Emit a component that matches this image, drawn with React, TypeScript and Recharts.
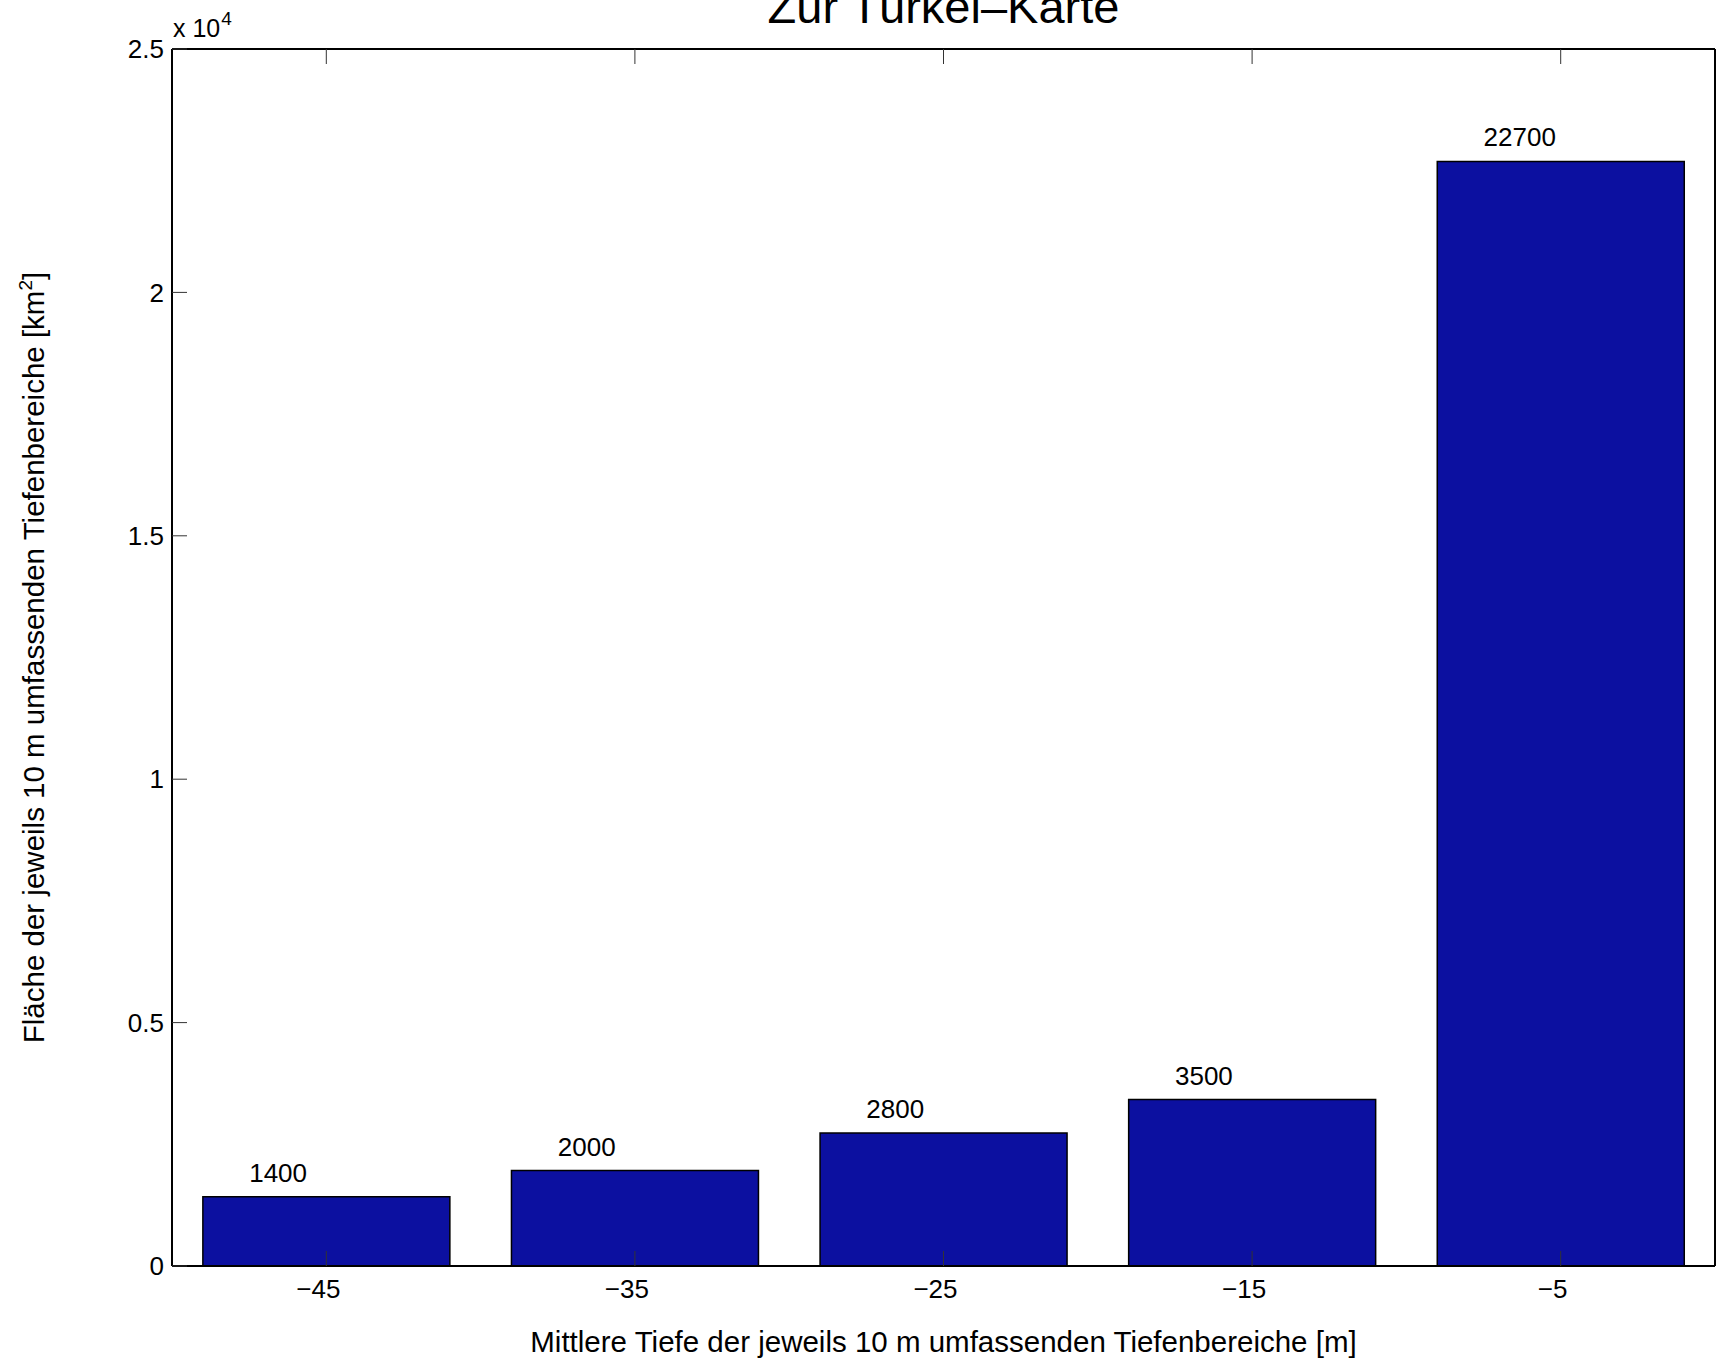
import { BarChart, Bar, XAxis, YAxis, Label, LabelList } from 'recharts'

// Mittlere Tiefe der Tiefenbereiche (Kategorien)
const depths = ['\u221245', '\u221235', '\u221225', '\u221215', '\u22125']
// Fläche je Tiefenbereich in km², wie gezeichnet
const areas = [1420, 1960, 2730, 3420, 22690]
// Beschriftung über den Balken
const barLabels = ['1400', '2000', '2800', '3500', '22700']
const yTicks = [0, 5000, 10000, 15000, 20000, 25000]

const data = depths.map((d, i) => ({ depth: d, area: areas[i], label: barLabels[i] }))

const FONT = '"Liberation Sans", Arial, Helvetica, sans-serif'
const BAR_FILL = '#0c10a0'

// eslint-disable-next-line @typescript-eslint/no-explicit-any
function TitleContent(props: any) {
  const vb = props.viewBox || { x: 0, y: 0, width: 0, height: 0 }
  const cx = vb.x + vb.width / 2
  return (
    <g>
      <text x={cx} y={23} textAnchor="middle" fontSize={47} fill="#000" fontFamily={FONT}>
        Zur Türkei–Karte
      </text>
      <text x={vb.x + 1} y={37} fontSize={25} fill="#000" fontFamily={FONT}>
        x 10
        <tspan dx={1} dy={-12} fontSize={19}>
          4
        </tspan>
      </text>
    </g>
  )
}

// eslint-disable-next-line @typescript-eslint/no-explicit-any
function YLabelContent(props: any) {
  const vb = props.viewBox || { x: 0, y: 0, width: 0, height: 0 }
  const x = 44
  const y = vb.y + vb.height / 2
  return (
    <text
      x={x}
      y={y}
      transform={`rotate(-90, ${x}, ${y})`}
      textAnchor="middle"
      fontSize={29.5}
      fill="#000"
      fontFamily={FONT}
    >
      Fläche der jeweils 10 m umfassenden Tiefenbereiche [km
      <tspan dy={-12} fontSize={19}>
        2
      </tspan>
      <tspan dy={12}>]</tspan>
    </text>
  )
}

// eslint-disable-next-line @typescript-eslint/no-explicit-any
function XLabelContent(props: any) {
  const vb = props.viewBox || { x: 0, y: 0, width: 0, height: 0 }
  return (
    <text
      x={vb.x + vb.width / 2}
      y={vb.y + 86}
      textAnchor="middle"
      fontSize={29.5}
      fill="#000"
      fontFamily={FONT}
    >
      Mittlere Tiefe der jeweils 10 m umfassenden Tiefenbereiche [m]
    </text>
  )
}

// eslint-disable-next-line @typescript-eslint/no-explicit-any
function BarValueLabel(props: any) {
  const x = Number(props.x)
  const y = Number(props.y)
  const w = Number(props.width)
  // MATLAB text sits left-aligned a quarter category left of the bar centre
  return (
    <text x={x + w * 0.1875} y={y - 15} fontSize={26} fill="#000" fontFamily={FONT}>
      {props.value}
    </text>
  )
}

// eslint-disable-next-line @typescript-eslint/no-explicit-any
function DepthTick(props: any) {
  const { x, y, payload } = props
  // labels sit a little left of the tick, as in the original
  return (
    <text x={Number(x) - 8} y={Number(y) + 19} textAnchor="middle" fontSize={26} fill="#000" fontFamily={FONT}>
      {payload.value}
    </text>
  )
}

const axisLine = { stroke: '#000', strokeWidth: 2 }
const tickLine = { stroke: '#333', strokeWidth: 1 }
const emptyTick = () => <g />

export default function App() {
  return (
    <div style={{ position: 'absolute', left: 0, top: 0, background: '#fff', fontFamily: FONT }}>
      <BarChart
        width={1717}
        height={1366}
        data={data}
        margin={{ top: 0, right: 0, left: 0, bottom: 0 }}
        barCategoryGap="10%"
      >
        <XAxis
          xAxisId="b"
          dataKey="depth"
          orientation="bottom"
          height={100}
          axisLine={axisLine}
          tickLine={tickLine}
          tickSize={-15}
          tickMargin={28}
          tick={DepthTick}
          interval={0}
        >
          <Label content={XLabelContent} />
        </XAxis>
        <XAxis
          xAxisId="t"
          dataKey="depth"
          orientation="top"
          height={49}
          axisLine={axisLine}
          tickLine={tickLine}
          tickSize={-15}
          tick={emptyTick}
          interval={0}
        >
          <Label content={TitleContent} />
        </XAxis>
        <YAxis
          yAxisId="l"
          orientation="left"
          width={172}
          domain={[0, 25000]}
          ticks={yTicks}
          axisLine={axisLine}
          tickLine={tickLine}
          tickSize={-15}
          tickMargin={23}
          tickFormatter={(v: number) => `${v / 10000}`}
          tick={{ fill: '#000', fontSize: 26, fontFamily: FONT }}
          interval={0}
        >
          <Label content={YLabelContent} />
        </YAxis>
        <YAxis
          yAxisId="r"
          orientation="right"
          width={2}
          domain={[0, 25000]}
          ticks={yTicks}
          axisLine={axisLine}
          tickLine={tickLine}
          tickSize={-15}
          tick={emptyTick}
          interval={0}
        />
        <Bar
          dataKey="area"
          xAxisId="b"
          yAxisId="l"
          fill={BAR_FILL}
          stroke="#000"
          strokeWidth={1.5}
          isAnimationActive={false}
        >
          <LabelList dataKey="label" content={BarValueLabel} />
        </Bar>
      </BarChart>
    </div>
  )
}
